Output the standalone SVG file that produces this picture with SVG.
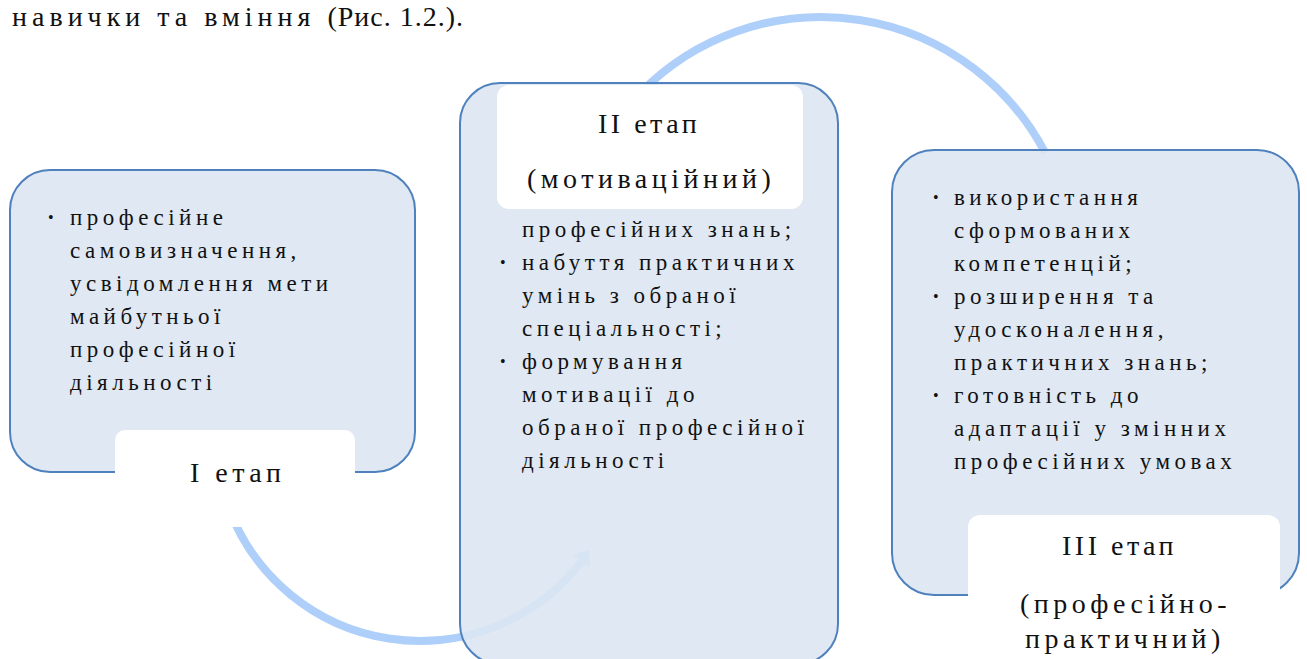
<svg xmlns="http://www.w3.org/2000/svg" width="1307" height="659" viewBox="0 0 1307 659" font-family="'Liberation Serif', 'Times New Roman', Tinos, 'DejaVu Serif', serif">
<style>
  .t { font-family: "Liberation Serif", "Times New Roman", Tinos, "DejaVu Serif", serif; fill: #111; }
  .body { font-size: 23px; letter-spacing: 4.5px; }
  .lab { font-size: 28px; letter-spacing: 4.5px; }
  .top { font-size: 28px; letter-spacing: 5px; }
  .box { fill: #dce5f2; fill-opacity: 0.9; stroke: #4f81bd; stroke-width: 2; }
  .label { fill: #ffffff; }
  .arc { fill: none; stroke: #afcffb; stroke-width: 8; }
  .bul { font-size: 16px; letter-spacing: 0; }
</style>
<rect width="1307" height="659" fill="#ffffff"/>
<text class="t top" x="12" y="26">навички та вміння <tspan style="letter-spacing:1px">(Рис. 1.2.).</tspan></text>

<g id="connectors">
  <path class="arc" d="M 228.3 506.8 A 204 204 0 0 0 581.5 561.5"/>
  <polygon points="573.1,555 589.9,568 589.2,549.8" fill="#afcffb"/>
  <path class="arc" d="M 642.1 91.1 A 253 253 0 0 1 1045.4 153.2"/>
</g>

<g id="stage1">
  <rect class="box" x="10" y="170" width="405" height="302" rx="40" ry="40"/>
  <rect class="label" x="115" y="430" width="240" height="97" rx="10" ry="10"/>
  <text class="t bul" x="48" y="223">•</text>
  <text class="t body" x="70" y="225">професійне</text>
  <text class="t body" x="70" y="258">самовизначення,</text>
  <text class="t body" x="70" y="291">усвідомлення мети</text>
  <text class="t body" x="70" y="324">майбутньої</text>
  <text class="t body" x="70" y="357">професійної</text>
  <text class="t body" x="70" y="390">діяльності</text>
  <text class="t lab" x="190" y="482">І етап</text>
</g>

<g id="stage2">
  <rect class="box" x="460" y="83" width="378" height="581" rx="40" ry="40"/>
  <rect class="label" x="497" y="85" width="306" height="124" rx="12" ry="12"/>
  <text class="t lab" x="598" y="133" style="letter-spacing:3.5px">ІІ етап</text>
  <text class="t lab" x="527" y="188">(мотиваційний)</text>
  <text class="t body" x="522" y="237">професійних знань;</text>
  <text class="t bul" x="500" y="268">•</text>
  <text class="t body" x="522" y="270">набуття практичних</text>
  <text class="t body" x="522" y="303">умінь з обраної</text>
  <text class="t body" x="522" y="336">спеціальності;</text>
  <text class="t bul" x="500" y="367">•</text>
  <text class="t body" x="522" y="369">формування</text>
  <text class="t body" x="522" y="402">мотивації до</text>
  <text class="t body" x="522" y="435">обраної професійної</text>
  <text class="t body" x="522" y="468">діяльності</text>
</g>

<g id="stage3">
  <rect class="box" x="892" y="150" width="407" height="445" rx="42" ry="42"/>
  <rect class="label" x="968" y="515" width="312" height="170" rx="12" ry="12"/>
  <text class="t bul" x="933" y="203">•</text>
  <text class="t body" x="954" y="205">використання</text>
  <text class="t body" x="954" y="238">сформованих</text>
  <text class="t body" x="954" y="271">компетенцій;</text>
  <text class="t bul" x="933" y="302">•</text>
  <text class="t body" x="954" y="304">розширення та</text>
  <text class="t body" x="954" y="337">удосконалення,</text>
  <text class="t body" x="954" y="370">практичних знань;</text>
  <text class="t bul" x="933" y="401">•</text>
  <text class="t body" x="954" y="403">готовність до</text>
  <text class="t body" x="954" y="436">адаптації у змінних</text>
  <text class="t body" x="954" y="469">професійних умовах</text>
  <text class="t lab" x="1062" y="555" style="letter-spacing:3.5px">ІІІ етап</text>
  <text class="t lab" x="1020" y="613">(професійно-</text>
  <text class="t lab" x="1025" y="648">практичний)</text>
</g>
</svg>
